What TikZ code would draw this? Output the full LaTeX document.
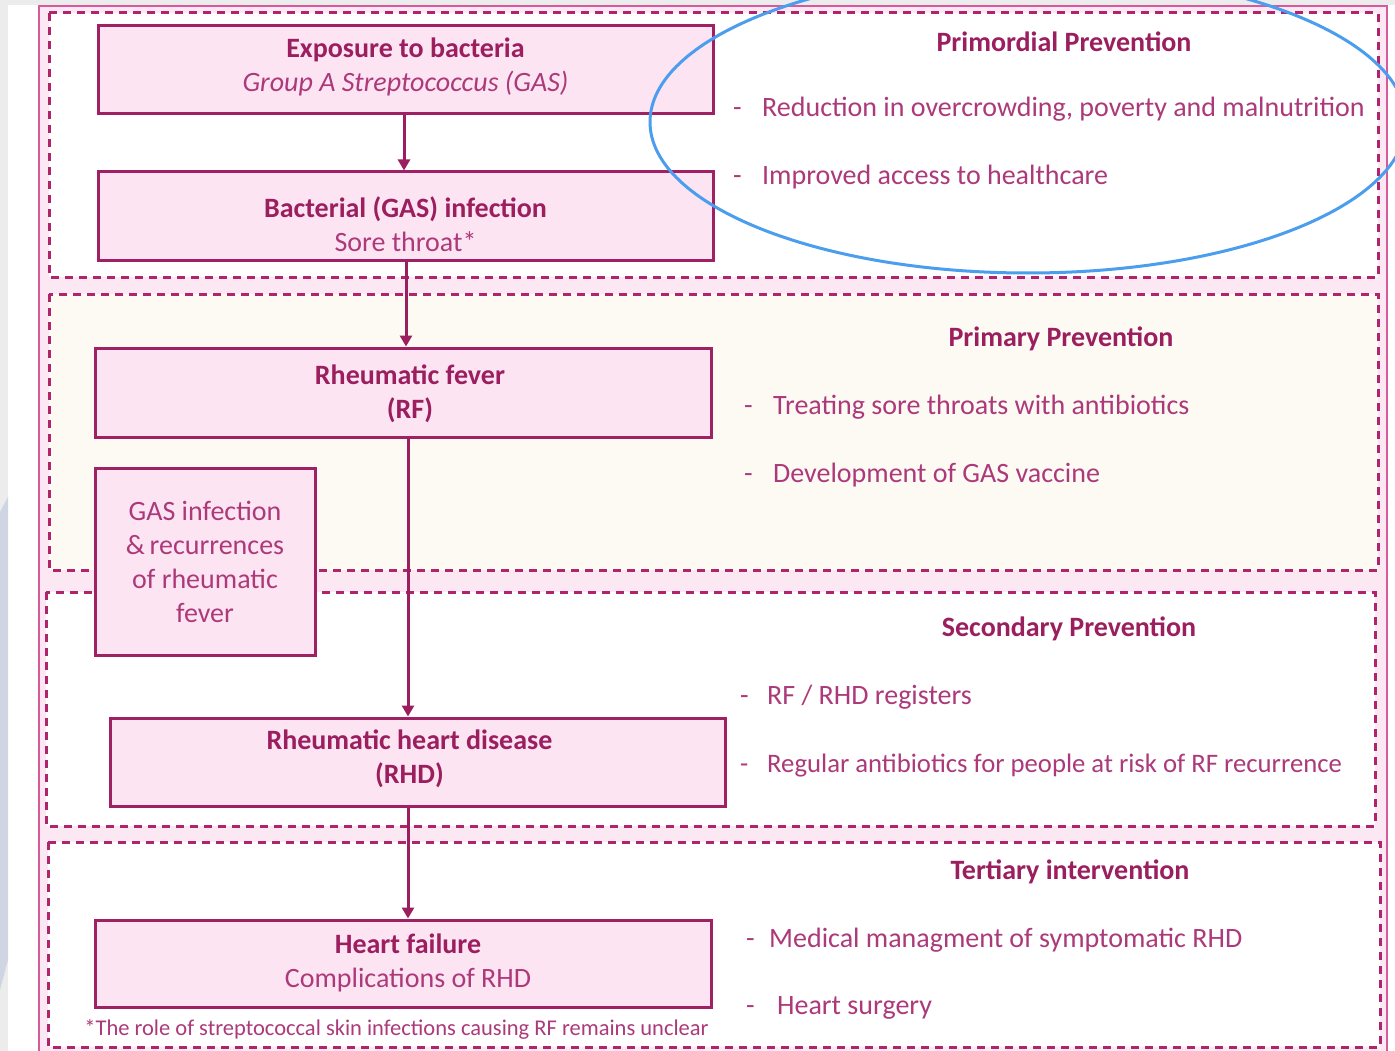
\documentclass[tikz,border=0pt]{standalone}
\usepackage{fontspec}
\setmainfont{Carlito}
\usetikzlibrary{arrows.meta}
\definecolor{dk}{RGB}{155,30,95}
\definecolor{tx}{RGB}{172,58,122}
\definecolor{bxfill}{RGB}{253,228,243}
\definecolor{bxline}{RGB}{160,32,100}
\definecolor{dashc}{RGB}{176,36,108}
\definecolor{gapfill}{RGB}{252,232,242}
\definecolor{creamfill}{RGB}{253,249,243}
\definecolor{ellc}{RGB}{75,158,238}
\definecolor{grayb}{RGB}{236,236,236}
\definecolor{blueg}{RGB}{207,213,226}
\definecolor{outerc}{RGB}{214,90,156}
\tikzset{
  box/.style={draw=bxline, line width=3pt, fill=bxfill, inner sep=0pt},
  lbl/.style={text=dk, align=center, font=\fontsize{28}{34}\selectfont, inner sep=0pt},
  sect/.style={draw=dashc, line width=3pt, dash pattern=on 8pt off 6pt},
  head/.style={text=dk, font=\fontsize{28}{34}\selectfont\bfseries, inner sep=0pt},
  item/.style={text=tx, anchor=west, font=\fontsize{28}{34}\selectfont, inner sep=0pt},
  arr/.style={draw=dk, line width=3pt, -{Triangle[width=12pt,length=11pt]}},
}
\begin{document}
\begin{tikzpicture}[x=1pt,y=-1pt]
\useasboundingbox (0,0) rectangle (1395,1051);
% background
\fill[white] (0,0) rectangle (1395,1051);
\fill[grayb] (0,0) rectangle (1395,5);
\fill[grayb] (0,0) rectangle (8,1051);
\fill[blueg] (0,512) -- (8,497) -- (8,960) -- (0,990) -- cycle;
% outer frame
\fill[gapfill] (39,6) rectangle (1387,1060);
\draw[outerc, line width=1.5pt] (39,6) rectangle (1387,1060);
% sections
\fill[white] (49,13) rectangle (1378,277);
\draw[sect] (49,13) rectangle (1378,277);
\fill[creamfill] (49,294) rectangle (1378,570);
\draw[sect] (49,294) rectangle (1378,570);
\fill[white] (46,592) rectangle (1375,826);
\draw[sect] (46,592) rectangle (1375,826);
\fill[white] (48,842) rectangle (1380,1047);
\draw[sect] (48,842) rectangle (1380,1047);
% boxes
\node[box, minimum width=615pt, minimum height=88pt,
  label={[lbl, yshift=3pt]center:{\textbf{Exposure to bacteria}\\{\color{tx}\itshape Group A Streptococcus (GAS)}}}] (exp) at (405.5,70) {};
\node[box, minimum width=615pt, minimum height=88pt,
  label={[lbl, yshift=-8pt]center:{\textbf{Bacterial (GAS) infection}\\{\color{tx}Sore throat*}}}] (bac) at (405.5,216) {};
\node[box, minimum width=616pt, minimum height=89pt,
  label={[lbl, xshift=7pt, yshift=-1pt]center:{\textbf{Rheumatic fever}\\\textbf{(RF)}}}] (rf) at (403,392.5) {};
\node[box, minimum width=220pt, minimum height=187pt,
  label={[lbl, text=tx]center:{GAS infection\\\&\,recurrences\\of rheumatic\\fever}}] (gas) at (205,561.5) {};
\node[box, minimum width=615pt, minimum height=88pt,
  label={[lbl, xshift=-8pt, yshift=3pt]center:{\textbf{Rheumatic heart disease}\\\textbf{(RHD)}}}] (rhd) at (417.5,762) {};
\node[box, minimum width=616pt, minimum height=87pt,
  label={[lbl, xshift=5pt, yshift=1pt]center:{\textbf{Heart failure}\\{\color{tx}Complications of RHD}}}] (hf) at (403,963.5) {};
\node[text=tx, font=\fontsize{22.5}{26}\selectfont, inner sep=0pt] (fn) at (396.5,1029)
  {*The role of streptococcal skin infections causing RF remains unclear};
% arrows
\coordinate (axa) at (404,0);
\coordinate (axb) at (406,0);
\coordinate (axc) at (408,0);
\draw[arr] (exp.south -| axa) -- (bac.north -| axa);
\draw[arr] (bac.south -| axb) -- (rf.north -| axb);
\draw[arr] (rf.south -| axc) -- (rhd.north -| axc);
\draw[arr] (rhd.south -| axc) -- (hf.north -| axc);
% right side texts
\node[head] (h1) at (1064,42) {Primordial Prevention};
\node[item] (p1) at (733,109) {\makebox[29pt][l]{-}Reduction in overcrowding, poverty and malnutrition};
\node[item] (p2) at (733,177) {\makebox[29pt][l]{-}Improved access to healthcare};
\node[head] (h2) at (1061,339) {Primary Prevention};
\node[item] (q1) at (744,407) {\makebox[29pt][l]{-}Treating sore throats with antibiotics};
\node[item] (q2) at (744,475) {\makebox[29pt][l]{-}Development of GAS vaccine};
\node[head] (h3) at (1069,629) {Secondary Prevention};
\node[item] (r1) at (740,697) {\makebox[27pt][l]{-}RF / RHD registers};
\node[item, font=\fontsize{26.7}{30}\selectfont] (r2) at (740,766) {\makebox[27pt][l]{-}Regular antibiotics for people at risk of RF recurrence};
\node[head] (h4) at (1070,872) {Tertiary intervention};
\node[item] (t1) at (746,940) {\makebox[23pt][l]{-}Medical managment of symptomatic RHD};
\node[item] (t2) at (746,1008) {\makebox[31pt][l]{-}Heart surgery};
% highlight ellipse
\draw[ellc, line width=3pt] (1028,122) ellipse [x radius=378pt, y radius=151pt];
\end{tikzpicture}
\end{document}
